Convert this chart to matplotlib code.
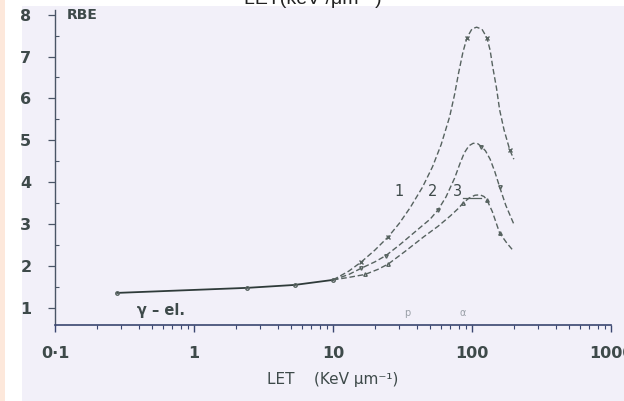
import matplotlib.pyplot as plt
from matplotlib.patches import Rectangle
from matplotlib.ticker import FixedLocator, NullFormatter

# low-LET branch shared by all three curves (gamma / electrons)
low_let = [0.28, 2.4, 5.3, 10]
low_rbe = [1.36, 1.48, 1.55, 1.67]

# curve 1
let1 = [10, 13, 16, 20, 25, 30, 36, 44, 52, 60, 69, 75, 80, 86, 92, 100, 108,
        118, 128, 135, 141, 150, 158, 170, 187, 200]
rbe1 = [1.67, 1.88, 2.1, 2.38, 2.7, 3.02, 3.4, 3.88, 4.37, 4.9, 5.56, 6.1,
        6.6, 7.1, 7.45, 7.66, 7.7, 7.65, 7.45, 7.15, 6.75, 6.25, 5.73, 5.25,
        4.77, 4.55]

# curve 2
let2 = [10, 13, 16, 20, 24, 30, 40, 50, 57, 65, 75, 82, 88, 95, 102, 110,
        117, 125, 135, 146, 158, 175, 200]
rbe2 = [1.67, 1.8, 1.95, 2.1, 2.25, 2.5, 2.85, 3.12, 3.34, 3.65, 4.1, 4.45,
        4.7, 4.87, 4.93, 4.92, 4.85, 4.75, 4.55, 4.25, 3.89, 3.45, 3.0]

# curve 3
let3 = [10, 13, 17, 21, 25, 33, 45, 57, 70, 80, 86, 95, 105, 114, 122, 128,
        140, 158, 178, 200]
rbe3 = [1.67, 1.73, 1.8, 1.92, 2.05, 2.35, 2.7, 2.95, 3.2, 3.38, 3.5, 3.62,
        3.69, 3.7, 3.66, 3.58, 3.3, 2.79, 2.55, 2.35]

xticks = [0.1, 1, 10, 100, 1000]
xtick_labels = ["0\u00b71", "1", "10", "100", "1000"]
yticks = [1, 2, 3, 4, 5, 6, 7, 8]

ink = "#3e4a4a"
curve_col = "#56625f"

fig = plt.figure(figsize=(6.24, 4.01), dpi=100)
fig.patch.set_facecolor("white")

# page background strips
fig.patches.append(Rectangle((0, 0), 5 / 624, 1, transform=fig.transFigure,
                             facecolor="#fde8db", edgecolor="none", zorder=-10))
fig.patches.append(Rectangle((22 / 624, 0), 1, 395 / 401, transform=fig.transFigure,
                             facecolor="#f2f0f9", edgecolor="none", zorder=-10))

# heading cut off at the top edge
fig.text(313 / 624, 397 / 401, "LET(keV /\u03bcm\u207b\u00b9)", ha="center",
         va="baseline", fontsize=14, color="#222222",
         family=["Liberation Sans", "DejaVu Sans"])

ax = fig.add_axes([55 / 624, 76 / 401, 556 / 624, 315 / 401])
ax.set_facecolor("none")
ax.set_xscale("log")
ax.set_xlim(0.1, 1000)
ax.set_ylim(0.594, 8.11)

ax.spines["top"].set_visible(False)
ax.spines["right"].set_visible(False)
ax.spines["left"].set_color("#4a5566")
ax.spines["bottom"].set_color("#3a4670")
ax.spines["left"].set_linewidth(1.0)
ax.spines["bottom"].set_linewidth(1.2)

ax.plot(low_let, low_rbe, color="#2f3b3a", lw=1.3, marker="o", ms=2.5,
        mfc="none", mec=curve_col)
ax.plot(let1, rbe1, color=curve_col, lw=1.0, ls=(0, (4, 2)),
        marker="x", ms=3, markevery=[2, 4, 14, 18, 24])
ax.plot(let2, rbe2, color=curve_col, lw=1.0, ls=(0, (4, 2)),
        marker="v", ms=2.5, mfc="none", markevery=[2, 4, 8, 16, 20])
ax.plot(let3, rbe3, color=curve_col, lw=1.0, ls=(0, (4, 2)),
        marker="^", ms=2.5, mfc="none", markevery=[2, 4, 10, 15, 17])

ax.set_xticks(xticks)
ax.set_xticklabels(xtick_labels)
ax.xaxis.set_minor_locator(FixedLocator(
    [m * d for d in [0.1, 1, 10, 100] for m in range(2, 10)]))
ax.xaxis.set_minor_formatter(NullFormatter())
ax.set_yticks(yticks)
ax.yaxis.set_minor_locator(FixedLocator([v + 0.5 for v in range(0, 8)]))

ax.tick_params(axis="x", which="major", direction="out", length=5,
               width=1, color="#3a4670", pad=10, labelsize=11.5, labelcolor=ink)
ax.tick_params(axis="x", which="minor", direction="out", length=3,
               width=0.8, color="#3a4670")
ax.tick_params(axis="y", which="major", direction="out", length=5,
               width=0.9, color="#4a5566", pad=12, labelsize=11.5, labelcolor=ink)
ax.tick_params(axis="y", which="minor", direction="in", length=3,
               width=0.8, color="#4a5566")
for lab in ax.get_xticklabels() + ax.get_yticklabels():
    lab.set_fontweight("bold")

ax.text(0.122, 8.0, "RBE", ha="left", va="center", fontsize=10,
        fontweight="bold", color=ink)
ax.text(0.39, 0.93, "\u03b3 \u2013 el.", ha="left", va="center", fontsize=10.5,
        fontweight="bold", color=ink)
ax.text(30, 3.77, "1", ha="center", va="center", fontsize=10.5, color=ink)
ax.text(52, 3.77, "2", ha="center", va="center", fontsize=10.5, color=ink)
ax.text(78, 3.77, "3", ha="center", va="center", fontsize=10.5, color=ink)
ax.plot([86, 117], [3.62, 3.62], color=curve_col, lw=0.9)
ax.text(34, 0.88, "p", ha="center", va="center", fontsize=7, color="#9aa0a8")
ax.text(85, 0.88, "\u03b1", ha="center", va="center", fontsize=7, color="#9aa0a8")

ax.set_xlabel("LET    (KeV \u03bcm\u207b\u00b9)", fontsize=11, color=ink,
              labelpad=8)

fig.savefig("out.png", dpi=100)
